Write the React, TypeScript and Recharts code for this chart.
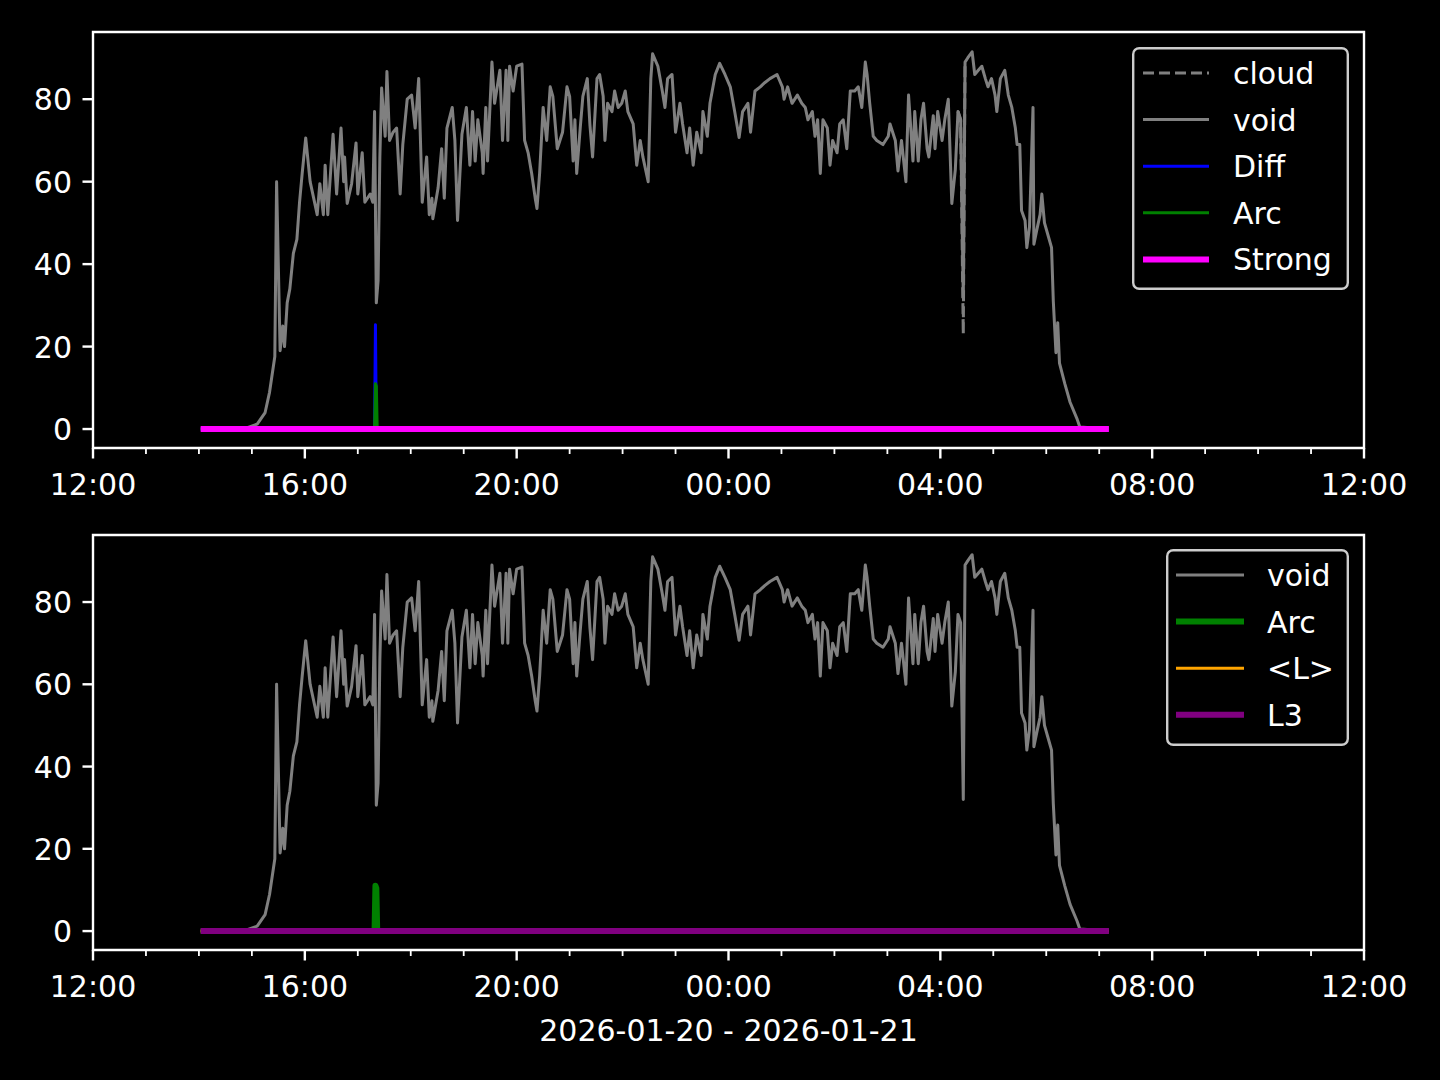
import React from "react";
import { LineChart, Line, XAxis, YAxis, ReferenceArea, Legend } from "recharts";

const FONT = "DejaVu Sans, sans-serif";
const FG = "#ffffff";
const FRAME = "#cccccc";

// time axis: minutes after 12:00 on 2026-01-20
const hourTicks = [0, 60, 120, 180, 240, 300, 360, 420, 480, 540, 600, 660, 720, 780, 840, 900, 960, 1020, 1080, 1140, 1200, 1260, 1320, 1380, 1440];
const majorTicks = [0, 240, 480, 720, 960, 1200, 1440];
const majorTickLabels = ["12:00", "16:00", "20:00", "00:00", "04:00", "08:00", "12:00"];
const yTicks = [0, 20, 40, 60, 80];
const Y_DOMAIN: [number, number] = [-4.6, 96.3];
const DATE_LABEL = "2026-01-20 - 2026-01-21";

const voidTimes = [
  "14:02", "14:54", "15:06", "15:15", "15:20", "15:26", "15:28", "15:32", "15:35", "15:37",
  "15:40", "15:43", "15:47", "15:51", "15:54", "15:57", "16:01", "16:06", "16:14", "16:17",
  "16:21", "16:23", "16:26", "16:32", "16:36", "16:41", "16:44", "16:45", "16:48", "16:53",
  "16:58", "17:00", "17:05", "17:08", "17:14", "17:17", "17:19", "17:21", "17:23", "17:25",
  "17:27", "17:31", "17:33", "17:36", "17:40", "17:44", "17:48", "17:51", "17:56", "18:01",
  "18:05", "18:09", "18:13", "18:18", "18:21", "18:24", "18:25", "18:31", "18:35", "18:38",
  "18:41", "18:47", "18:50", "18:53", "18:58", "19:03", "19:07", "19:10", "19:13", "19:16",
  "19:21", "19:22", "19:25", "19:27", "19:32", "19:35", "19:41", "19:44", "19:48", "19:50",
  "19:52", "19:56", "20:00", "20:06", "20:09", "20:13", "20:17", "20:21", "20:23", "20:26",
  "20:30", "20:34", "20:38", "20:41", "20:46", "20:49", "20:52", "20:57", "21:00", "21:04",
  "21:06", "21:08", "21:12", "21:15", "21:20", "21:23", "21:26", "21:31", "21:34", "21:38",
  "21:40", "21:43", "21:48", "21:51", "21:55", "21:59", "22:03", "22:06", "22:12", "22:16",
  "22:20", "22:23", "22:29", "22:32", "22:34", "22:40", "22:45", "22:48", "22:51", "22:56",
  "23:00", "23:05", "23:08", "23:13", "23:16", "23:20", "23:24", "23:29", "23:31", "23:36",
  "23:39", "23:45", "23:50", "23:56", "00:02", "00:07", "00:12", "00:16", "00:22", "00:25",
  "00:30", "00:36", "00:41", "00:47", "00:55", "01:01", "01:03", "01:07", "01:12", "01:18",
  "01:23", "01:27", "01:30", "01:35", "01:38", "01:41", "01:44", "01:47", "01:52", "01:55",
  "01:58", "02:03", "02:06", "02:10", "02:14", "02:18", "02:23", "02:27", "02:31", "02:35",
  "02:37", "02:40", "02:44", "02:48", "02:55", "03:01", "03:03", "03:09", "03:12", "03:16",
  "03:21", "03:24", "03:29", "03:31", "03:35", "03:38", "03:41", "03:45", "03:47", "03:52",
  "03:54", "03:57", "04:02", "04:05", "04:09", "04:13", "04:17", "04:20", "04:23", "04:26",
  "04:28", "04:31", "04:36", "04:39", "04:43", "04:47", "04:51", "04:54", "04:58", "05:02",
  "05:04", "05:08", "05:13", "05:17", "05:21", "05:25", "05:27", "05:30", "05:32", "05:36",
  "05:38", "05:41", "05:45", "05:46", "05:49", "05:53", "05:55", "05:58", "06:02", "06:06",
  "06:08", "06:11", "06:13", "06:15", "06:21", "06:27", "06:35", "06:38", "07:11",
];
const voidValues = [
  0, 0.3, 1.2, 4, 8.9, 17.6, 60, 19, 25, 20,
  30.6, 34, 42.6, 46, 55, 62, 70.6, 60, 52, 59.5,
  52, 64, 52, 71.5, 57, 73, 60, 66, 54.7, 59.5,
  69.4, 57, 67, 55, 57, 55, 77, 30.6, 36, 66,
  82.7, 71, 86.7, 70, 72, 73, 57, 69, 80, 81,
  73, 85, 55, 66, 52, 56, 51, 58.5, 68, 56,
  73, 78, 70, 50.6, 71.5, 78, 64, 77, 65, 75,
  67, 62, 78, 65, 89, 79, 87, 70, 87, 70,
  88, 82, 88, 88.5, 70, 67, 62, 56, 53.5, 62,
  78, 70, 83, 80.7, 68, 70, 72, 83, 80.7, 65,
  75, 62, 73, 80.7, 85, 73.8, 66, 85, 86, 80.7,
  70, 79, 77, 82, 78, 79, 82, 77, 74, 64,
  70, 66, 60, 85, 91, 88, 82, 78, 85, 86,
  72, 79, 74, 67, 73, 64, 72, 67, 77, 71,
  79, 86, 88.7, 86, 83, 77, 70.7, 77, 79, 72,
  82, 83, 84, 85, 86, 83, 80, 83, 79, 81,
  79, 78, 75, 77, 71, 75, 62, 75, 73, 64,
  70, 67, 74, 75, 68, 82, 82, 83, 78, 89,
  86, 79, 71, 70, 69, 71, 74, 70, 62.6, 70,
  60, 81, 65, 77, 65, 75, 79, 68, 66, 76,
  68, 77, 70, 75, 80, 54.7, 63, 77, 75, 32,
  89, 90, 91.5, 86, 87, 88, 85, 83, 85, 81,
  77, 85, 87, 81, 78, 73, 69, 69, 53, 50.6,
  44, 49, 78, 44.8, 48, 52, 57, 50, 47, 44,
  31, 18.5, 25.8, 16, 11, 6.5, 2.4, 0.5, 0,
];

// the dashed cloud trace only shows where it leaves the void trace
const cloudTimes = ["04:20", "04:23", "04:26", "04:28"];
const cloudValues = [77, 75, 23, 89];

const diffTimes = ["14:02", "17:19", "17:20", "17:21", "07:11"];
const diffValues = [0, 0, 25.3, 0, 0];

const arcTimes = ["14:02", "17:19", "17:20", "17:21", "17:22", "07:11"];
const arcValues = [0, 0, 11, 10.4, 0, 0];

const flatTimes = ["14:02", "07:11"];
const flatValues = [0, 0];

const toMinutes = (s: string) => {
  const [h, m] = s.split(":").map(Number);
  let t = h * 60 + m - 720;
  if (t < 0) t += 1440;
  return t;
};

const toSeries = (times: string[], values: number[]) =>
  times.map((t, i) => ({ t: toMinutes(t), v: values[i] }));

type Series = {
  name: string;
  data: { t: number; v: number }[];
  color: string;
  width: number;
  dash?: string;
};

const voidData = toSeries(voidTimes, voidValues);

const topSeries: Series[] = [
  { name: "cloud", data: toSeries(cloudTimes, cloudValues), color: "#808080", width: 3, dash: "11 5" },
  { name: "void", data: voidData, color: "#808080", width: 3 },
  { name: "Diff", data: toSeries(diffTimes, diffValues), color: "#0000ff", width: 3 },
  { name: "Arc", data: toSeries(arcTimes, arcValues), color: "#008000", width: 3 },
  { name: "Strong", data: toSeries(flatTimes, flatValues), color: "#ff00ff", width: 6 },
];

const bottomSeries: Series[] = [
  { name: "void", data: voidData, color: "#808080", width: 3 },
  { name: "Arc", data: toSeries(arcTimes, arcValues), color: "#008000", width: 6 },
  { name: "<L>", data: toSeries(flatTimes, flatValues), color: "#ffa500", width: 3 },
  { name: "L3", data: toSeries(flatTimes, flatValues), color: "#800080", width: 6 },
];

const XTick = (props: any) => {
  const { x, y, payload } = props;
  const idx = majorTicks.indexOf(payload.value);
  const major = idx >= 0;
  return (
    <g>
      <line x1={x} x2={x} y1={y} y2={y + (major ? 10.5 : 6)} stroke={FG} strokeWidth={major ? 2.4 : 1.8} />
      {major && (
        <text x={x} y={y + 47} textAnchor="middle" fill={FG} fontSize={30} fontFamily={FONT}>
          {majorTickLabels[idx]}
        </text>
      )}
    </g>
  );
};

const YTick = (props: any) => {
  const { x, y, payload } = props;
  return (
    <g>
      <line x1={x - 10.5} x2={x} y1={y} y2={y} stroke={FG} strokeWidth={2.4} />
      <text x={x - 21} y={y + 11} textAnchor="end" fill={FG} fontSize={30} fontFamily={FONT}>
        {payload.value}
      </text>
    </g>
  );
};

const DateLabel = (props: any) => {
  const vb = props.viewBox || { x: 93, y: 450, width: 1271 };
  return (
    <text x={vb.x + vb.width / 2} y={vb.y + 91} textAnchor="middle" fill={FG} fontSize={30} fontFamily={FONT}>
      {DATE_LABEL}
    </text>
  );
};

type Box = { x: number; y: number; w: number; h: number; hx1: number; hx2: number };

const LegendBox = ({ items, box }: { items: Series[]; box: Box }) => (
  <svg width={box.w} height={box.h} style={{ display: "block" }}>
    <rect x={1.2} y={1.2} width={box.w - 2.4} height={box.h - 2.4} rx={6} fill="#000" stroke={FRAME} strokeWidth={2.4} />
    {items.map((s, i) => {
      const cy = 26 + i * 46.6;
      return (
        <g key={s.name}>
          <line x1={box.hx1} x2={box.hx2} y1={cy} y2={cy} stroke={s.color} strokeWidth={s.width} strokeDasharray={s.dash} />
          <text x={101} y={cy + 11} fill={FG} fontSize={30} fontFamily={FONT}>
            {s.name}
          </text>
        </g>
      );
    })}
  </svg>
);

type PanelProps = {
  series: Series[];
  top: number;
  height: number;
  margin: { top: number; right: number; bottom: number; left: number };
  xAxisHeight: number;
  box: Box;
  withDate?: boolean;
};

function Panel({ series, top, height, margin, xAxisHeight, box, withDate }: PanelProps) {
  return (
    <div style={{ position: "absolute", left: 0, top, width: 1440, height }}>
      <LineChart width={1440} height={height} margin={margin}>
        <XAxis
          dataKey="t"
          type="number"
          domain={[0, 1440]}
          ticks={hourTicks}
          interval={0}
          allowDataOverflow
          axisLine={false}
          tickLine={false}
          tickSize={0}
          tickMargin={0}
          height={xAxisHeight}
          tick={<XTick />}
          label={withDate ? <DateLabel /> : undefined}
        />
        <YAxis
          type="number"
          domain={Y_DOMAIN}
          ticks={yTicks}
          interval={0}
          allowDataOverflow
          axisLine={false}
          tickLine={false}
          tickSize={0}
          tickMargin={0}
          width={60}
          tick={<YTick />}
        />
        {series.map((s) => (
          <Line
            key={s.name}
            data={s.data}
            dataKey="v"
            name={s.name}
            type="linear"
            stroke={s.color}
            strokeWidth={s.width}
            strokeDasharray={s.dash}
            strokeLinejoin="round"
            dot={false}
            activeDot={false}
            isAnimationActive={false}
          />
        ))}
        <ReferenceArea x1={0} x2={1440} y1={Y_DOMAIN[0]} y2={Y_DOMAIN[1]} fill="none" stroke={FG} strokeWidth={2.4} />
        <Legend
          layout="vertical"
          align="center"
          verticalAlign="middle"
          wrapperStyle={{ left: box.x, top: box.y, width: box.w, height: box.h }}
          content={() => <LegendBox items={series} box={box} />}
        />
      </LineChart>
    </div>
  );
}

export default function App() {
  return (
    <div style={{ position: "absolute", left: 0, top: 0, width: 1440, height: 1080, background: "#000" }}>
      <Panel
        series={topSeries}
        top={0}
        height={540}
        margin={{ top: 32, right: 76, bottom: 32, left: 33 }}
        xAxisHeight={60}
        box={{ x: 1132, y: 47, w: 217, h: 243, hx1: 11, hx2: 77 }}
      />
      <Panel
        series={bottomSeries}
        top={500}
        height={580}
        margin={{ top: 35, right: 76, bottom: 30, left: 33 }}
        xAxisHeight={100}
        box={{ x: 1166, y: 49, w: 183, h: 197, hx1: 10, hx2: 78 }}
        withDate
      />
    </div>
  );
}
